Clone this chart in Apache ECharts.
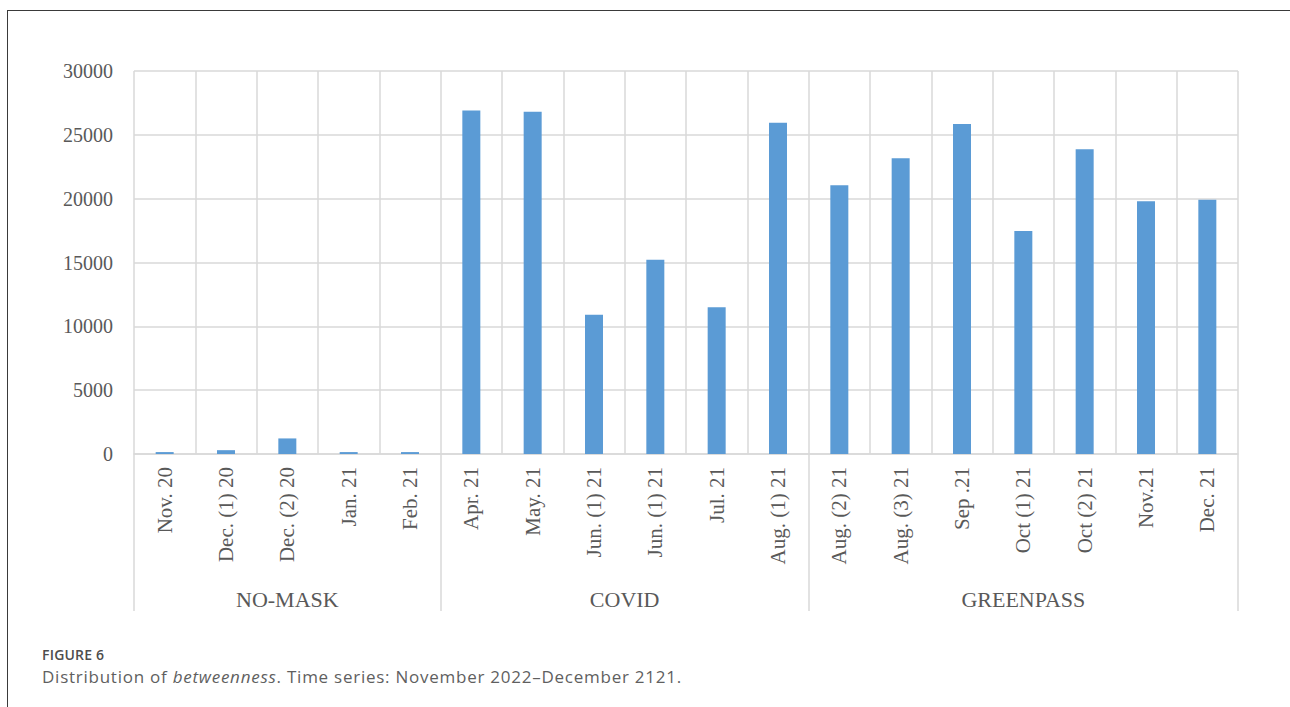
<!DOCTYPE html>
<html>
<head>
<meta charset="utf-8">
<script src="https://cdn.jsdelivr.net/npm/echarts@6/dist/echarts.min.js"></script>
<style>
html,body{margin:0;padding:0;background:#fff;width:1290px;height:707px;overflow:hidden;}
#frame{position:absolute;left:7px;top:10px;width:1300px;height:720px;border-left:1.5px solid #3a3a3a;border-top:1.5px solid #3a3a3a;}
#chart{position:absolute;left:0;top:0;width:1290px;height:707px;}
#fig{position:absolute;left:42px;top:645px;font-family:"Open Sans",sans-serif;font-weight:600;font-size:14px;color:#4d4d4d;letter-spacing:0.2px;}
#cap{position:absolute;left:42px;top:665px;font-family:"Open Sans",sans-serif;font-size:17px;color:#5f5f5f;letter-spacing:0.75px;}
</style>
</head>
<body>
<div id="frame"></div>
<div id="chart"></div>
<div id="fig">FIGURE 6</div>
<div id="cap">Distribution of <i>betweenness</i>. Time series: November 2022–December 2121.</div>
<script>
var categories = ["Nov. 20","Dec. (1) 20","Dec. (2) 20","Jan. 21","Feb. 21",
  "Apr. 21","May. 21","Jun. (1) 21","Jun. (1) 21","Jul. 21","Aug. (1) 21",
  "Aug. (2) 21","Aug. (3) 21","Sep .21","Oct (1) 21","Oct (2) 21","Nov.21","Dec. 21"];
var values = [150, 300, 1220, 150, 150,
  26900, 26800, 10900, 15220, 11500, 25950,
  21050, 23160, 25850, 17470, 23870, 19800, 19920];
var groupNames = ["NO-MASK", "COVID", "GREENPASS"];
var groupSizes = [5, 6, 7];
var yTicks = {min: 0, max: 30000, interval: 5000};

// group boundaries and centers, in category units
var bounds = [0], centers = [];
groupSizes.forEach(function(s){ var b = bounds[bounds.length-1]; centers.push(b + s/2); bounds.push(b + s); });

var serif = '"Liberation Serif","Times New Roman",serif';
var chart = echarts.init(document.getElementById('chart'), null, {renderer: 'svg'});
chart.setOption({
  animation: false,
  backgroundColor: 'transparent',
  grid: {left: 134, right: 52, top: 71, bottom: 253},
  xAxis: [{
    type: 'category',
    data: categories,
    boundaryGap: true,
    axisLine: {show: true, lineStyle: {color: '#d9d9d9', width: 1.5}},
    axisTick: {show: false},
    splitLine: {show: true, lineStyle: {color: '#d9d9d9', width: 1.5}},
    axisLabel: {interval: 0, rotate: 90, margin: 13, fontFamily: serif, fontSize: 21, color: '#595959'}
  }, {
    type: 'value',
    min: 0, max: categories.length,
    position: 'bottom',
    axisLine: {show: false},
    splitLine: {show: false},
    axisTick: {show: true, customValues: bounds, length: 157, lineStyle: {color: '#d9d9d9', width: 1.5}},
    axisLabel: {show: true, customValues: centers, margin: 134, fontFamily: serif, fontSize: 22, color: '#595959',
      formatter: function(v){ var i = centers.indexOf(v); return i >= 0 ? groupNames[i] : ''; }}
  }],
  yAxis: {
    type: 'value',
    min: yTicks.min, max: yTicks.max, interval: yTicks.interval,
    axisLine: {show: false},
    axisTick: {show: false},
    splitLine: {show: true, lineStyle: {color: '#d9d9d9', width: 1.5}},
    axisLabel: {margin: 21, fontFamily: serif, fontSize: 20, color: '#595959',
      formatter: function(v){ return String(v); }}
  },
  series: [{
    type: 'bar',
    xAxisIndex: 0,
    data: values,
    barWidth: 18,
    itemStyle: {color: '#5b9bd5'}
  }]
});
</script>
</body>
</html>
